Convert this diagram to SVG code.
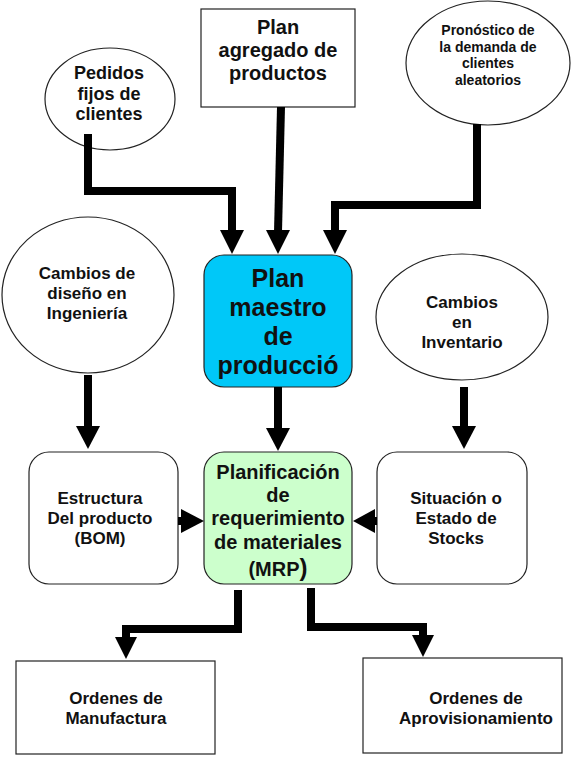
<svg xmlns="http://www.w3.org/2000/svg" width="574" height="768" viewBox="0 0 574 768">
<style>
.sh{fill:#ffffff;stroke:#222;stroke-width:1.2}
.t{font-family:"Liberation Sans",Arial,sans-serif;font-weight:bold;fill:#111;text-anchor:middle}
.ln{fill:none;stroke:#000;stroke-width:8;stroke-linejoin:miter}
.ah{fill:#000}
</style>
<rect width="574" height="768" fill="#fff"/>
<g id="pedidos">
<ellipse class="sh" cx="110" cy="99" rx="65" ry="51"/>
<text class="t" font-size="18"><tspan x="109" y="79">Pedidos</tspan><tspan x="109" y="100">fijos de</tspan><tspan x="109" y="120">clientes</tspan></text>
</g>
<g id="plan-agregado">
<rect class="sh" x="201" y="9" width="154" height="98"/>
<text class="t" font-size="20"><tspan x="278" y="34">Plan</tspan><tspan x="278" y="57">agregado de</tspan><tspan x="278" y="80">productos</tspan></text>
</g>
<g id="pronostico">
<ellipse class="sh" cx="488" cy="63" rx="82" ry="62"/>
<text class="t" font-size="14"><tspan x="488" y="35">Pronóstico de</tspan><tspan x="488" y="52">la demanda de</tspan><tspan x="488" y="68">clientes</tspan><tspan x="488" y="85">aleatorios</tspan></text>
</g>
<g id="cambios-diseno">
<ellipse class="sh" cx="88" cy="295" rx="86" ry="78"/>
<text class="t" font-size="17"><tspan x="87" y="279">Cambios de</tspan><tspan x="87" y="299">diseño en</tspan><tspan x="87" y="319">Ingeniería</tspan></text>
</g>
<g id="plan-maestro">
<rect x="204" y="255" width="148" height="132" rx="20" fill="#00c8f8" stroke="#222" stroke-width="1.2"/>
<text class="t" font-size="25"><tspan x="278" y="287">Plan</tspan><tspan x="278" y="316">maestro</tspan><tspan x="278" y="345">de</tspan><tspan x="278" y="374">producció</tspan></text>
</g>
<g id="cambios-inventario">
<ellipse class="sh" cx="462" cy="317" rx="86" ry="63"/>
<text class="t" font-size="17"><tspan x="462" y="308">Cambios</tspan><tspan x="462" y="328">en</tspan><tspan x="462" y="348">Inventario</tspan></text>
</g>
<g id="estructura">
<rect class="sh" x="29" y="452" width="149" height="132" rx="20"/>
<text class="t" font-size="17"><tspan x="100" y="504">Estructura</tspan><tspan x="100" y="524">Del producto</tspan><tspan x="100" y="544">(BOM)</tspan></text>
</g>
<g id="mrp">
<rect x="204" y="452" width="148" height="132" rx="20" fill="#ccffcc" stroke="#222" stroke-width="1.2"/>
<text class="t" font-size="20"><tspan x="278" y="479">Planificación</tspan><tspan x="278" y="502">de</tspan><tspan x="278" y="525">requerimiento</tspan><tspan x="278" y="549">de materiales</tspan><tspan x="278" y="576">(MRP<tspan font-size="24">)</tspan></tspan></text>
</g>
<g id="situacion">
<rect class="sh" x="377" y="452" width="150" height="132" rx="20"/>
<text class="t" font-size="17"><tspan x="456" y="504">Situación o</tspan><tspan x="456" y="524">Estado de</tspan><tspan x="456" y="544">Stocks</tspan></text>
</g>
<g id="ordenes-manufactura">
<rect class="sh" x="16" y="661" width="199" height="93"/>
<text class="t" font-size="17"><tspan x="116" y="704">Ordenes de</tspan><tspan x="116" y="724">Manufactura</tspan></text>
</g>
<g id="ordenes-aprovisionamiento">
<rect class="sh" x="363" y="658" width="199" height="95"/>
<text class="t" font-size="17"><tspan x="476" y="704">Ordenes de</tspan><tspan x="476" y="724">Aprovisionamiento</tspan></text>
</g>
<g id="connectors">
<polyline class="ln" points="88,134 88,191 232,191 232,232"/>
<polygon class="ah" points="220,230 244,230 232,254"/>
<polyline class="ln" points="281,107 278,232"/>
<polygon class="ah" points="266,230 290,230 278,254"/>
<polyline class="ln" points="477,124 477,205 335,205 335,232"/>
<polygon class="ah" points="323,230 347,230 335,254"/>
<polyline class="ln" points="88,375 88,428"/>
<polygon class="ah" points="76,426 100,426 88,449"/>
<polyline class="ln" points="278,387 278,430"/>
<polygon class="ah" points="266,428 290,428 278,451"/>
<polyline class="ln" points="464,387 464,428"/>
<polygon class="ah" points="452,426 476,426 464,449"/>
<polyline class="ln" points="178,521 184,521"/>
<polygon class="ah" points="181,509 181,533 204,521"/>
<polyline class="ln" points="377,521 372,521"/>
<polygon class="ah" points="375,509 375,533 353,521"/>
<polyline class="ln" points="238,590 238,629 126,629 126,640"/>
<polygon class="ah" points="115,637 137,637 126,659"/>
<polyline class="ln" points="311,588 311,627 423,627 423,638"/>
<polygon class="ah" points="412,635 434,635 423,657"/>
</g>
</svg>
